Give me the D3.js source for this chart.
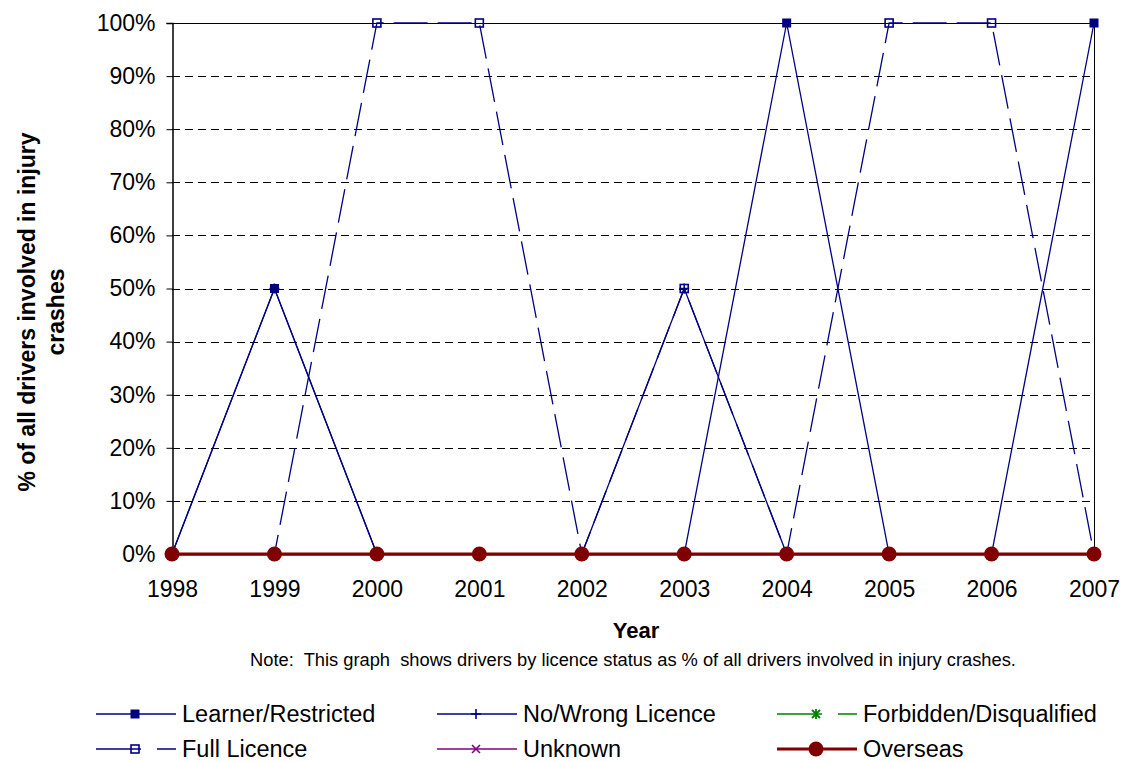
<!DOCTYPE html>
<html>
<head>
<meta charset="utf-8">
<script src="https://cdn.jsdelivr.net/npm/d3@7"></script>
<style>
  body { margin: 0; background: #fff; }
  text { font-family: "Liberation Sans", Arial, sans-serif; }
</style>
</head>
<body>
<div id="chart"></div>
<script>
const years = [1998, 1999, 2000, 2001, 2002, 2003, 2004, 2005, 2006, 2007]
const learner = [0, 50, 0, 0, 0, 0, 100, 0, 0, 100]
const noWrong = [0, 50, 0, 0, 0, 50, 0, 0, 0, 0]
const forbidden = [0, 0, 0, 0, 0, 0, 0, 0, 0, 0]
const full = [0, 0, 100, 100, 0, 50, 0, 100, 100, 0]
const unknown = [0, 0, 0, 0, 0, 0, 0, 0, 0, 0]
const overseas = [0, 0, 0, 0, 0, 0, 0, 0, 0, 0]
const yTicks = [0, 10, 20, 30, 40, 50, 60, 70, 80, 90, 100]

const series = [
    { name: 'Learner/Restricted', values: learner, color: '#000080', width: 1.3, dash: null, marker: 'fsquare' },
    { name: 'No/Wrong Licence', values: noWrong, color: '#000080', width: 1.3, dash: null, marker: 'plus' },
    { name: 'Forbidden/Disqualified', values: forbidden, color: '#008000', width: 1.3, dash: '34,10', marker: 'star' },
    { name: 'Full Licence', values: full, color: '#000080', width: 1.3, dash: '34,10', marker: 'hsquare' },
    { name: 'Unknown', values: unknown, color: '#800080', width: 1.3, dash: null, marker: 'cross' },
    { name: 'Overseas', values: overseas, color: '#800000', width: 3, dash: null, marker: 'circle' }
]

const width = 1126
const height = 762
const pLeft = 172, pRight = 1094, pTop = 23, pBottom = 554
const font = '"Liberation Sans", Arial, sans-serif'

const svg = d3.select('#chart').append('svg')
    .attr('width', width)
    .attr('height', height)

const x = d3.scalePoint().domain(years).range([pLeft, pRight])
const y = d3.scaleLinear().domain([0, 100]).range([pBottom, pTop])

// 网格线
svg.append('g')
    .selectAll('line')
    .data(yTicks.filter(d => d > 0))
    .join('line')
    .attr('x1', pLeft).attr('x2', pRight)
    .attr('y1', d => Math.round(y(d)) + 0.5)
    .attr('y2', d => Math.round(y(d)) + 0.5)
    .attr('stroke', '#000')
    .attr('stroke-width', 1)
    .attr('stroke-dasharray', '8,5')

// 边框
svg.append('line').attr('x1', pRight + 0.5).attr('x2', pRight + 0.5).attr('y1', pTop).attr('y2', pBottom)
    .attr('stroke', '#000')
svg.append('line').attr('x1', pLeft).attr('x2', pRight).attr('y1', pTop + 0.5).attr('y2', pTop + 0.5)
    .attr('stroke', '#000')

// y轴
const yAxis = g => g
    .attr('transform', `translate(${pLeft + 0.5},0)`)
    .call(d3.axisLeft(y).tickValues(yTicks).tickSize(6).tickPadding(11).tickFormat(d => d + '%'))
    .call(g => g.select('.domain').attr('stroke', '#000').attr('stroke-width', 1.5))
    .call(g => g.selectAll('text').attr('font-size', 23).attr('fill', '#000').attr('font-family', font))
svg.append('g').call(yAxis)

// x轴
const xAxis = g => g
    .attr('transform', `translate(0,${pBottom + 0.5})`)
    .call(d3.axisBottom(x).tickSize(6).tickPadding(20))
    .call(g => g.select('.domain').attr('stroke', '#000'))
    .call(g => g.selectAll('text').attr('font-size', 23).attr('fill', '#000').attr('font-family', font))
svg.append('g').call(xAxis)

const markerSymbol = (g, type, color, cx, cy) => {
    if (type === 'fsquare') {
        g.append('rect').attr('x', cx - 4.5).attr('y', cy - 4.5).attr('width', 9).attr('height', 9)
            .attr('fill', color)
    } else if (type === 'hsquare') {
        g.append('rect').attr('x', cx - 4).attr('y', cy - 4).attr('width', 8).attr('height', 8)
            .attr('fill', 'none').attr('stroke', color).attr('stroke-width', 1.6)
    } else if (type === 'plus') {
        g.append('path').attr('d', `M${cx - 5},${cy}H${cx + 5}M${cx},${cy - 5}V${cy + 5}`)
            .attr('stroke', color).attr('stroke-width', 1.6)
    } else if (type === 'cross') {
        g.append('path').attr('d', `M${cx - 4},${cy - 4}L${cx + 4},${cy + 4}M${cx - 4},${cy + 4}L${cx + 4},${cy - 4}`)
            .attr('stroke', color).attr('stroke-width', 1.6)
    } else if (type === 'star') {
        g.append('path').attr('d', `M${cx - 4},${cy - 4}L${cx + 4},${cy + 4}M${cx - 4},${cy + 4}L${cx + 4},${cy - 4}M${cx},${cy - 5}V${cy + 5}`)
            .attr('stroke', color).attr('stroke-width', 1.8)
    } else if (type === 'circle') {
        g.append('circle').attr('cx', cx).attr('cy', cy).attr('r', 7.5).attr('fill', color)
    }
}

const line = d3.line().x((d, i) => x(years[i])).y(d => y(d))

series.forEach(s => {
    svg.append('path')
        .attr('d', line(s.values))
        .attr('fill', 'none')
        .attr('stroke', s.color)
        .attr('stroke-width', s.width)
        .attr('stroke-dasharray', s.dash)
    const g = svg.append('g')
    s.values.forEach((v, i) => markerSymbol(g, s.marker, s.color, x(years[i]), y(v)))
})

// 标题
svg.append('text')
    .attr('x', 636).attr('y', 638)
    .attr('text-anchor', 'middle')
    .attr('font-size', 22).attr('font-weight', 'bold')
    .text('Year')
svg.append('text')
    .attr('x', 633).attr('y', 666)
    .attr('text-anchor', 'middle')
    .attr('font-size', 18.3)
    .style('white-space', 'pre')
    .text('Note:  This graph  shows drivers by licence status as % of all drivers involved in injury crashes.')

const yTitle = svg.append('text')
    .attr('transform', 'translate(0,312) rotate(-90)')
    .attr('text-anchor', 'middle')
    .attr('font-size', 23).attr('font-weight', 'bold')
yTitle.append('tspan').attr('x', 0).attr('y', 35).text('% of all drivers involved in injury')
yTitle.append('tspan').attr('x', 0).attr('y', 64).text('crashes')

// 图例
const legendPos = [[96, 714], [437, 714], [777, 714], [96, 749], [437, 749], [777, 749]]
series.forEach((s, i) => {
    const [lx, ly] = legendPos[i]
    const g = svg.append('g')
    g.append('line')
        .attr('x1', lx).attr('x2', lx + 80)
        .attr('y1', ly).attr('y2', ly)
        .attr('stroke', s.color)
        .attr('stroke-width', s.width)
        .attr('stroke-dasharray', s.dash ? '45,16,19,100' : null)
    markerSymbol(g, s.marker, s.color, lx + 39, ly)
    g.append('text')
        .attr('x', lx + 86).attr('y', ly + 8)
        .attr('font-size', 23.5)
        .text(s.name)
})
</script>
</body>
</html>
